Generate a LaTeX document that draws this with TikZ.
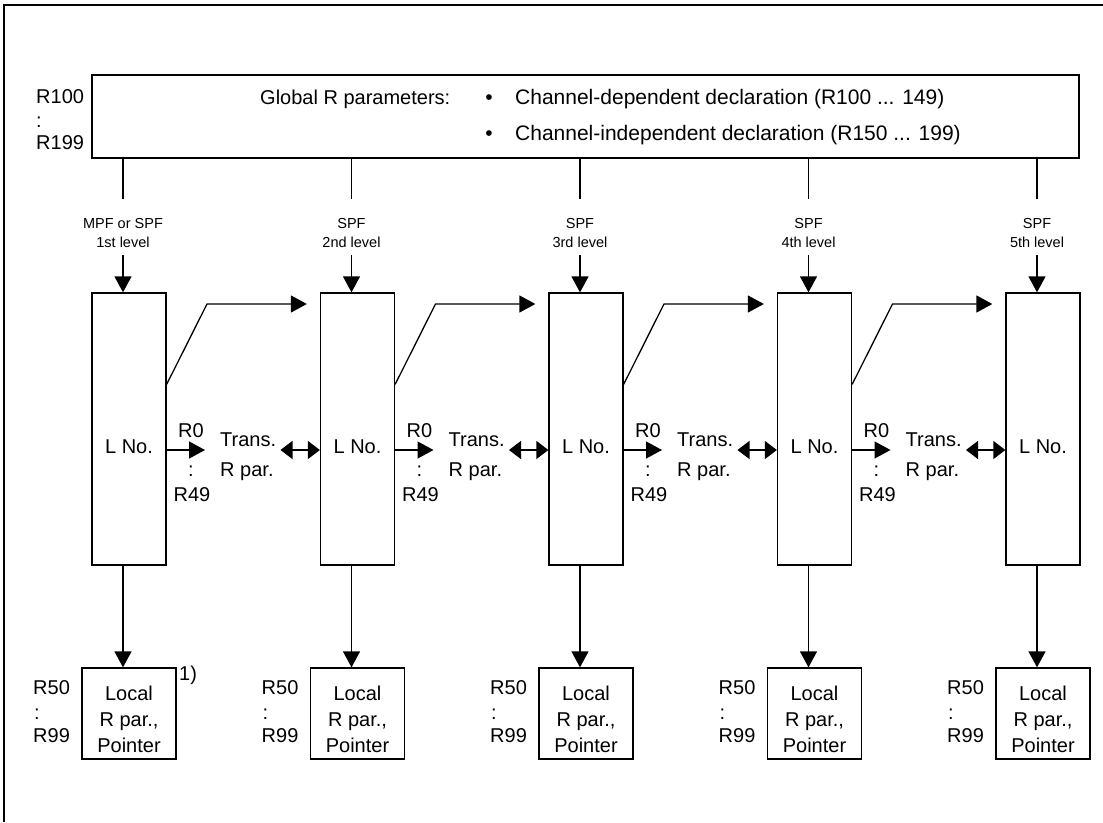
\documentclass[tikz,border=0pt]{standalone}
\usepackage{fontspec}
\setmainfont{Liberation Sans}
\usetikzlibrary{arrows.meta,calc}
\begin{document}
\begin{tikzpicture}[x=1pt,y=-1pt,
  line/.style={line width=1.3pt},
  arr/.style={line width=1.3pt,-{Triangle[length=16pt,width=17pt]}},
  darr/.style={line width=1.3pt,{Triangle[length=12pt,width=18pt]}-{Triangle[length=12pt,width=18pt]}},
  box/.style={draw,line width=1.3pt,inner sep=0pt},
  mtext/.style={font=\fontsize{20}{23}\selectfont,inner sep=0pt},
  gtext/.style={font=\fontsize{21}{23}\selectfont,inner sep=0pt},
  ltext/.style={font=\fontsize{20}{26}\selectfont,inner sep=0pt,align=center},
  ttext/.style={font=\fontsize{20}{30}\selectfont,inner sep=0pt,align=left},
  stext/.style={font=\fontsize{14.5}{19.5}\selectfont,inner sep=0pt,align=center},
]
\useasboundingbox (0,0) rectangle (1103,822);
\draw[line width=1.5pt] (4,822) -- (4,5) -- (1103,5);

% global box
\node[box,minimum width=987pt,minimum height=83pt] (G) at (585.5,116.5) {};
\node[mtext,anchor=base west] (gl1) at (36,103) {R100};
\node[mtext,anchor=base west] (gl2) at (36,127) {:};
\node[mtext,anchor=base west] (gl3) at (36,149) {R199};
\node[mtext,anchor=base west] (gt) at (260,104) {Global R parameters:};
\node[gtext,anchor=base] (b1) at (489,104) {•};
\node[gtext,anchor=base] (b2) at (489,140) {•};
\node[gtext,anchor=base west] (c1) at (515,104) {Channel-dependent declaration (R100 ... 149)};
\node[gtext,anchor=base west] (c2) at (515,140) {Channel-independent declaration (R150 ... 199)};

\foreach \k/\ta/\tb in {0/{MPF or SPF}/{1st level},1/SPF/{2nd level},2/SPF/{3rd level},3/SPF/{4th level},4/SPF/{5th level}} {
  \pgfmathsetmacro\dx{228.5*\k}
  \node[box,minimum width=74pt,minimum height=272pt] (L\k) at (129+\dx,429) {};
  \node[mtext] (N\k) at (129+\dx,447) {L No.};
  \coordinate (a\k) at (123+\dx,199);
  \draw[line] (G.south -| a\k) -- (a\k);
  \node[stext] (S\k) at (123+\dx,233) {\ta\\\tb};
  \coordinate (s\k) at (123+\dx,255);
  \draw[arr] (s\k) -- (s\k |- L\k.north);
  \node[box,minimum width=94pt,minimum height=91pt] (P\k) at (129+\dx,713.5) {};
  \node[ltext] (PT\k) at (129+\dx,719) {Local\\R par.,\\Pointer};
  \draw[arr] (L\k.south -| s\k) -- (s\k |- P\k.north);
  \node[mtext,anchor=base west] (r50\k) at (33+\dx,694) {R50};
  \node[mtext,anchor=base west] (rc\k) at (34+\dx,719) {:};
  \node[mtext,anchor=base west] (r99\k) at (33+\dx,742) {R99};
}
\node[mtext,anchor=west] (fn) at (179,675) {1)};

\foreach \k in {0,1,2,3} {
  \pgfmathsetmacro\dx{228.5*\k}
  \pgfmathtruncatemacro\kn{\k+1}
  \coordinate (h\k) at (166+\dx,450);
  \coordinate (he\k) at (205+\dx,450);
  \draw[arr] (h\k) -- (he\k);
  \node[mtext] (R0\k) at (191+\dx,431) {R0};
  \node[mtext] (Rc\k) at (191+\dx,471) {:};
  \node[mtext] (R49\k) at (192+\dx,495) {R49};
  \node[ttext,anchor=west] (T\k) at (220+\dx,457) {Trans.\\R par.};
  \coordinate (d\k) at (280.5+\dx,450);
  \draw[darr] (d\k) -- (d\k -| L\kn.west);
  \coordinate (q\k) at ($(L\k.north east)+(0,92)$);
  \coordinate (m\k) at (207+\dx,304);
  \draw[arr] (q\k) -- (m\k) -- ($(m\k -| L\kn.west)+(-13,0)$);
}
\end{tikzpicture}
\end{document}
